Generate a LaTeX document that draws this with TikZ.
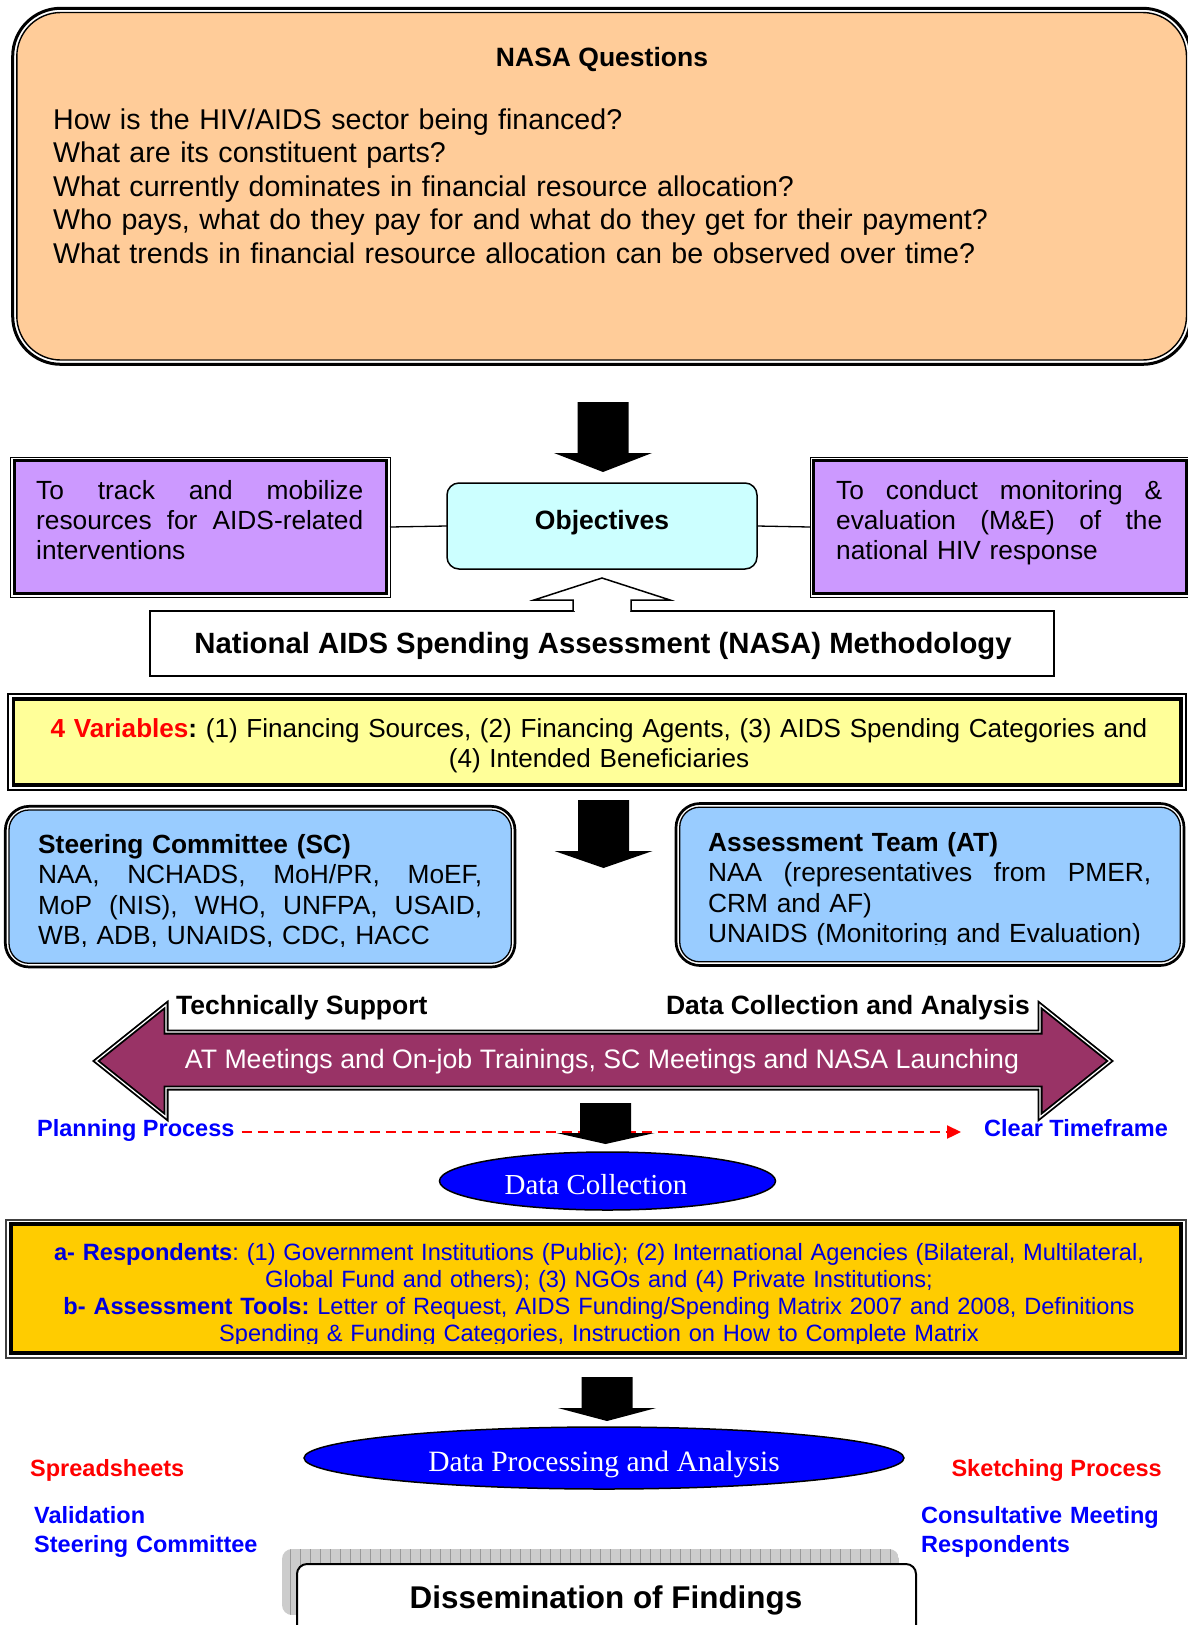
\documentclass[tikz,border=0pt]{standalone}
\usepackage{fontspec}
\setmainfont{Liberation Sans}
\newfontfamily\serifface{Liberation Serif}
\usetikzlibrary{arrows.meta,shapes.geometric}
\definecolor{peach}{HTML}{FFCC99}
\definecolor{lilac}{HTML}{CC99FF}
\definecolor{paleCyan}{HTML}{CCFFFF}
\definecolor{paleYellow}{HTML}{FFFF99}
\definecolor{skyBlue}{HTML}{99CCFF}
\definecolor{maroonFill}{HTML}{993366}
\definecolor{goldFill}{HTML}{FFCC00}
\definecolor{pureBlue}{HTML}{0000FF}
\definecolor{pureRed}{HTML}{FF0000}
\definecolor{goldText}{HTML}{0000DD}
\frenchspacing
\newcommand\blkdown[4]{\fill[black] (#1-25.5,#2) -- (#1+25.5,#2) -- (#1+25.5,#3) -- (#1+49,#3) -- (#1,#4) -- (#1-49,#3) -- (#1-25.5,#3) -- cycle;}
\newcommand\jst[2]{\makebox[#1][s]{\spaceskip=0pt\relax #2}}
\begin{document}
\begin{tikzpicture}[x=1pt,y=-1pt,
  body/.style={inner sep=0, font=\fontsize{26.3}{30.3}\selectfont},
  bodyb/.style={inner sep=0, font=\bfseries\fontsize{26.5}{30.3}\selectfont},
  qfont/.style={inner sep=0, font=\fontsize{28.6}{33.6}\selectfont},
  side/.style={inner sep=0, font=\bfseries\fontsize{23.5}{28}\selectfont},
  goldfont/.style={inner sep=0, font=\fontsize{23.6}{27}\selectfont, text=goldText},
  serifw/.style={inner sep=0, text=white},
  boxnode/.style={outer sep=0, inner sep=0, anchor=north west},
  ell/.style={ellipse, draw=black, line width=1.5, fill=pureBlue, inner sep=0, outer sep=0}
]
\useasboundingbox (0,0) rectangle (1187,1625);

% ---------- NASA Questions ----------
\node[boxnode, draw=black, line width=3, fill=white, rounded corners=48,
      minimum width=1178, minimum height=356] (qbox) at (12.7,8.3) {};
\draw[line width=1.4, fill=peach, rounded corners=44] (16.8,12.5) rectangle (1186.5,360);
\node[bodyb, anchor=base] (qtitle) at (602,66.5) {NASA Questions};
\node[qfont, anchor=base west, text width=1100, align=left] (qlist) at (53,129)
 {How is the HIV/AIDS sector being financed?\\
  What are its constituent parts?\\
  What currently dominates in financial resource allocation?\\
  Who pays, what do they pay for and what do they get for their payment?\\
  What trends in financial resource allocation can be observed over time?};

% ---------- arrow 1 ----------
\blkdown{603}{402}{453}{472}

% ---------- Objectives row ----------
\node[boxnode, draw=black, line width=1, fill=white, minimum width=379.5, minimum height=140] (lbox) at (10.5,457) {};
\draw[line width=3, fill=lilac] (14.2,460.5) rectangle (386.3,593.5);
\node[boxnode, draw=black, line width=1, fill=white, minimum width=380, minimum height=140] (rbox) at (810,457) {};
\draw[line width=3, fill=lilac] (813.7,460.5) rectangle (1186.3,593.5);
\node[boxnode, draw=black, line width=1.5, fill=paleCyan, rounded corners=12, minimum width=310, minimum height=86] (obj) at (447,483) {};
\draw[line width=1.3] (lbox.east) -- (obj.west);
\draw[line width=1.3] (obj.east) -- (rbox.west);
\node[bodyb, anchor=base] (objtxt) at (602,529.5) {Objectives};
\node[body, anchor=base west, text width=327, align=left] (ltxt) at (36,499)
 {\jst{327pt}{To track and mobilize}\\
  \jst{327pt}{resources for AIDS-related}\\
  interventions};
\node[body, anchor=base west, text width=326, align=left] (rtxt) at (836,499)
 {\jst{326pt}{To conduct monitoring \&}\\
  \jst{326pt}{evaluation (M\&E) of the}\\
  national HIV response};

% ---------- Methodology ----------
\node[boxnode, draw=black, line width=1.5, fill=white, minimum width=904, minimum height=65] (meth) at (150,611) {};
\filldraw[line width=1.5, fill=white, draw=black] (573,611) -- (573,600) -- (534,600) -- (602,578) -- (670,600) -- (631,600) -- (631,611);
\fill[white] (574.5,608.5) rectangle (629.5,613);
\node[bodyb, anchor=base, font=\bfseries\fontsize{29.3}{33}\selectfont] (methtxt) at (603,653) {National AIDS Spending Assessment (NASA) Methodology};

% ---------- 4 Variables ----------
\node[boxnode, draw=black, line width=1.6, fill=white, minimum width=1178, minimum height=96] (vbox) at (8,694) {};
\draw[line width=3.3, fill=paleYellow] (13.3,699) rectangle (1181,785);
\node[body, anchor=base, text width=1170, align=center, font=\fontsize{26.1}{30}\selectfont] (vtxt) at (599,737)
 {{\bfseries\color{pureRed}4 Variables}\textbf{:} (1) Financing Sources, (2) Financing Agents, (3) AIDS Spending Categories and\\
  (4) Intended Beneficiaries};

% ---------- arrow 2 ----------
\blkdown{603.5}{800}{851}{868}

% ---------- SC / AT ----------
\node[boxnode, draw=black, line width=2.7, fill=white, rounded corners=24, minimum width=509.7, minimum height=160.7] (scbox) at (5.3,806.3) {};
\draw[line width=1.3, fill=skyBlue, rounded corners=20] (9,810) rectangle (511.3,963.3);
\node[boxnode, draw=black, line width=2.7, fill=white, rounded corners=24, minimum width=508, minimum height=162] (atbox) at (676,803.5) {};
\draw[line width=1.3, fill=skyBlue, rounded corners=20] (679.7,807.2) rectangle (1180.3,961.8);
\begin{scope}
\clip (0,800) rectangle (520,946.5);
\node[body, anchor=base west, text width=444, align=left] (sctxt) at (38,853.5)
 {\textbf{Steering Committee (SC)}\\
  \jst{444pt}{NAA, NCHADS, MoH/PR, MoEF,}\\
  \jst{444pt}{MoP (NIS), WHO, UNFPA, USAID,}\\
  WB, ADB, UNAIDS, CDC, HACC};
\end{scope}
\begin{scope}
\clip (670,800) rectangle (1187,944.5);
\node[body, anchor=base west, text width=443, align=left] (attxt) at (708,851.5)
 {\textbf{Assessment Team (AT)}\\
  \jst{443pt}{NAA (representatives from PMER,}\\
  CRM and AF)\\
  UNAIDS (Monitoring and Evaluation)};
\end{scope}

% ---------- big double arrow ----------
\path[fill=maroonFill] (96,1061) -- (166,1005) -- (166,1032) -- (1040,1032) -- (1040,1005) -- (1110,1061) -- (1040,1117) -- (1040,1088) -- (166,1088) -- (166,1117) -- cycle;
\draw[line width=5, line join=miter] (96,1061) -- (166,1005) -- (166,1032) -- (1040,1032) -- (1040,1005) -- (1110,1061) -- (1040,1117) -- (1040,1088) -- (166,1088) -- (166,1117) -- cycle;
\draw[line width=1.3, white, line join=miter] (96,1061) -- (166,1005) -- (166,1032) -- (1040,1032) -- (1040,1005) -- (1110,1061) -- (1040,1117) -- (1040,1088) -- (166,1088) -- (166,1117) -- cycle;
\node[body, anchor=base, text=white, font=\fontsize{26.7}{30}\selectfont] (meet) at (602,1068.5) {AT Meetings and On-job Trainings, SC Meetings and NASA Launching};
\node[bodyb, anchor=base west] (techsup) at (176,1014.5) {Technically Support};
\node[bodyb, anchor=base east] (dcana) at (1030,1014.5) {Data Collection and Analysis};

% ---------- timeline ----------
\node[side, anchor=base west, text=pureBlue] (plan) at (37,1136.5) {Planning Process};
\node[side, anchor=base west, text=pureBlue] (clear) at (984,1136.5) {Clear Timeframe};
\draw[pureRed, line width=2.3, dash pattern=on 10pt off 6pt, -{Triangle[length=14pt,width=13pt]}]
  ([shift={(7,-4.5)}]plan.base east) -- ([shift={(-23,-4.5)}]clear.base west);
\blkdown{605.5}{1103}{1133}{1144}

% ---------- Data Collection ----------
\node[ell, minimum width=336, minimum height=58] (dcoll) at (607.5,1181) {};
\node[serifw, anchor=base, font=\serifface\fontsize{29}{32}\selectfont] (dcolltxt) at (596,1194) {Data Collection};

% ---------- gold box ----------
\node[boxnode, draw=black!75, line width=1.6, fill=white, minimum width=1180, minimum height=138] (gbox) at (6,1220) {};
\draw[line width=3.3, fill=goldFill] (11,1224) rectangle (1181,1353);
\begin{scope}
\clip (0,1225) rectangle (1187,1343.5);
\node[goldfont, anchor=base, text width=1170, align=center] (gtxt) at (599,1260.5)
 {{\bfseries a- Respondents}: (1) Government Institutions (Public); (2) International Agencies (Bilateral, Multilateral,\\
  Global Fund and others); (3) NGOs and (4) Private Institutions;\\
  {\bfseries b- Assessment Tools:} Letter of Request, AIDS Funding/Spending Matrix 2007 and 2008, Definitions\\
  Spending \& Funding Categories, Instruction on How to Complete Matrix};
\end{scope}

% ---------- arrow 4 ----------
\blkdown{607}{1377}{1408}{1421}

% ---------- Data Processing ----------
\node[ell, minimum width=600, minimum height=62] (dproc) at (604,1458) {};
\node[serifw, anchor=base, font=\serifface\fontsize{29.5}{32}\selectfont] (dproctxt) at (604,1471) {Data Processing and Analysis};
\node[side, anchor=base west, text=pureRed] (spread) at (30,1476.5) {Spreadsheets};
\node[side, anchor=base east, text=pureRed] (sketch) at (1162,1476.5) {Sketching Process};
\node[side, anchor=base west, text=pureBlue, text width=260, align=left] (valid) at (34,1523.5) {Validation\\[0.5pt]Steering Committee};
\node[side, anchor=base west, text=pureBlue, text width=260, align=left] (consult) at (921,1523.5) {Consultative Meeting\\[0.5pt]Respondents};

% ---------- Dissemination ----------
\begin{scope}
\clip[rounded corners=10] (282,1549) rectangle (899,1615);
\fill[black!20] (282,1549) rectangle (899,1615);
\draw[black!40, line width=0.8, step=10] (280,1540) grid (900,1620);
\end{scope}
\node[boxnode, draw=black, line width=2, fill=white, rounded corners=10, minimum width=619, minimum height=90] (diss) at (297,1564) {};
\node[bodyb, anchor=base, font=\bfseries\fontsize{31.4}{35}\selectfont] (disstxt) at (606,1608) {Dissemination of Findings};
\end{tikzpicture}
\end{document}
